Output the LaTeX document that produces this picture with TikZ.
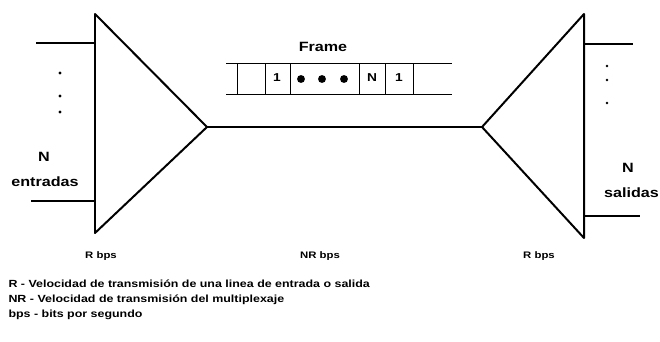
\documentclass[tikz,border=0pt]{standalone}
\usepackage{fontspec}
\setmainfont{Liberation Sans}
\newfontfamily\widesans[FakeStretch=1.2]{Liberation Sans}
\usetikzlibrary{positioning}

\begin{document}
\begin{tikzpicture}[x=1bp,y=-1bp,font=\widesans\bfseries\fontsize{9.5}{11}\selectfont,
	link/.style={line width=2pt},
	wire/.style={line width=1.5pt},
	lead/.style={line width=1pt},
	dot/.style={fill,circle,inner sep=1.2pt},
	bigdot/.style={fill,circle,inner sep=2.8pt},
	big/.style={font=\widesans\bfseries\fontsize{13.5}{15}\selectfont},
	cell/.style={font=\widesans\bfseries\fontsize{11.5}{13}\selectfont},
	legend/.style={anchor=west,font=\widesans\bfseries\fontsize{10.4}{12}\selectfont}]

	\useasboundingbox (0,0) rectangle (660,341);

	% multiplexor
	\coordinate (mtop) at (95,14);
	\coordinate (mbot) at (95,233);
	\coordinate (mout) at (207,127);
	\draw[link,line join=round] (mtop) -- (mbot) -- (mout) -- cycle;

	% demultiplexor
	\coordinate (dtop) at (584,14);
	\coordinate (dbot) at (584,238);
	\coordinate (din) at (482,127);
	\draw[link,line join=round] (dtop) -- (dbot) -- (din) -- cycle;

	\draw[wire] (mout) -- (din);

	% entradas
	\coordinate (in1) at (36,43);
	\coordinate (inN) at (31,201);
	\draw[wire] (in1) -- (in1 -| mtop);
	\draw[wire] (inN) -- (inN -| mtop);
	\node[dot] (ind1) at (60,73) {};
	\node[dot] (ind2) at (60,96) {};
	\node[dot] (ind3) at (60,112) {};
	\node[big] (nin) at (44,157) {N};
	\node[big] (entr) at (45,182) {entradas};

	% salidas
	\coordinate (out1) at (633,44);
	\coordinate (outN) at (640,216);
	\draw[wire] (out1 -| dtop) -- (out1);
	\draw[wire] (outN -| dtop) -- (outN);
	\node[dot,inner sep=1pt] (outd1) at (607,66) {};
	\node[dot,inner sep=1pt] (outd2) at (607,80) {};
	\node[dot,inner sep=1pt] (outd3) at (607,103) {};
	\node[big] (nout) at (628,168) {N};
	\node[big,anchor=east,inner xsep=1pt] (sal) at (660,193) {salidas};

	% trama
	\node[big] (frame) at (323,47) {Frame};
	\coordinate (ftl) at (226,63);
	\coordinate (ftr) at (452,63);
	\coordinate (fbl) at (226,94);
	\coordinate (fbr) at (452,94);
	\draw[lead] (ftl) -- (ftr);
	\draw[lead] (fbl) -- (fbr);
	\foreach \x in {237,265,290,359,385,413}
		\draw[lead] (\x,63) -- (\x,94);
	\node[cell] (c1) at (277,78) {1};
	\node[bigdot] (e1) at (301,79) {};
	\node[bigdot] (e2) at (322,79) {};
	\node[bigdot] (e3) at (344,79) {};
	\node[cell] (cN) at (372,78) {N};
	\node[cell] (c1b) at (399,78) {1};

	% velocidades
	\node (rin) at (101,256) {R bps};
	\node (nr) at (320,256) {NR bps};
	\node (rout) at (539,256) {R bps};

	\node[legend] (ley1) at (5,284) {R - Velocidad de transmisión de una linea de entrada o salida};
	\node[legend] (ley2) at (5,300) {NR - Velocidad de transmisión del multiplexaje};
	\node[legend] (ley3) at (5,315) {bps - bits por segundo};

\end{tikzpicture}
\end{document}
